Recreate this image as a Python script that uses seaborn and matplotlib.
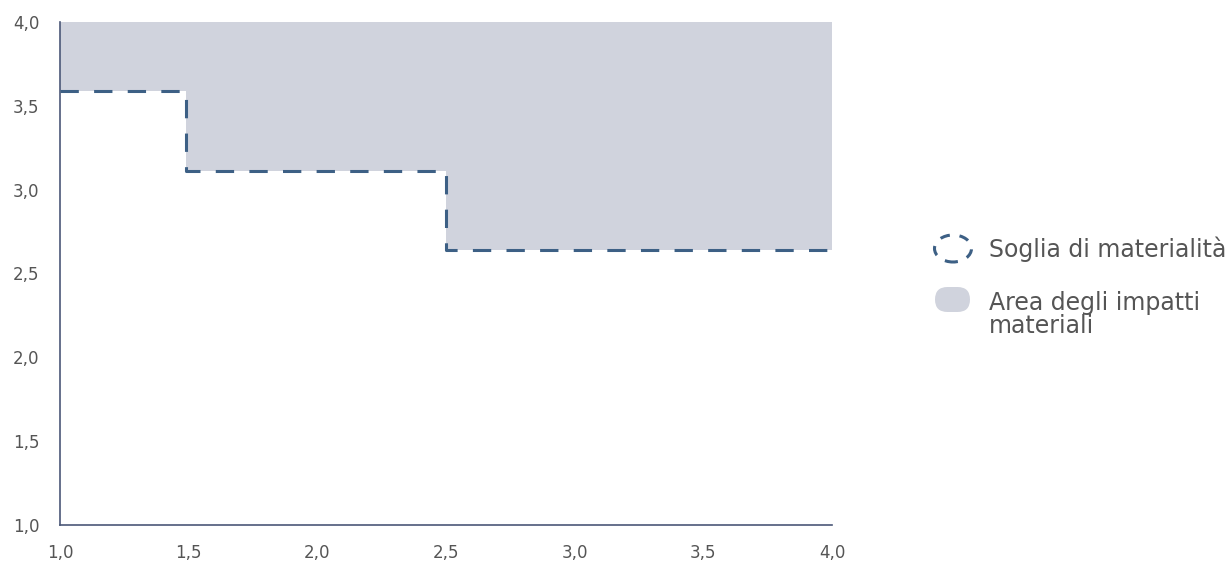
import numpy as np
import pandas as pd
import matplotlib.pyplot as plt
import seaborn as sns
from matplotlib.patches import Ellipse, FancyBboxPatch

# step threshold values
soglia_x = [1.0, 1.49, 2.5, 4.0]
soglia_y = [3.59, 3.11, 2.64, 2.64]
y_top = 4.0
ticks = [1.0, 1.5, 2.0, 2.5, 3.0, 3.5, 4.0]
tick_labels = ["1,0", "1,5", "2,0", "2,5", "3,0", "3,5", "4,0"]
legend_lines = ["Soglia di materialità", "Area degli impatti", "materiali"]

line_col = "#3d6085"
fill_col = "#d0d3dd"
axis_col = "#4b5878"
text_col = "#555555"

sns.set_style("white")
plt.rcParams["font.family"] = ["DejaVu Sans"]

df = pd.DataFrame({"x": soglia_x, "y": soglia_y})

fig = plt.figure(figsize=(12.3, 5.65), dpi=100)
ax = fig.add_axes([0.0488, 0.0708, 0.6276, 0.8903])

ax.fill_between(df["x"], df["y"], y_top, step="post", color=fill_col, linewidth=0, zorder=1)
sns.lineplot(data=df, x="x", y="y", ax=ax, drawstyle="steps-post", color=line_col,
             linewidth=2.2, linestyle=(0, (6, 5)), zorder=3)

ax.set_xlim(1.0, 4.0)
ax.set_ylim(1.0, 4.0)
ax.set_xticks(ticks)
ax.set_xticklabels(tick_labels)
ax.set_yticks(ticks)
ax.set_yticklabels(tick_labels)
ax.set_xlabel("")
ax.set_ylabel("")
ax.tick_params(axis="both", length=0, labelsize=12, labelcolor=text_col)
ax.tick_params(axis="x", pad=14)
ax.tick_params(axis="y", pad=15)
for s in ["top", "right"]:
    ax.spines[s].set_visible(False)
for s in ["left", "bottom"]:
    ax.spines[s].set_color(axis_col)
    ax.spines[s].set_linewidth(1.2)

# legend drawn by hand (positions in inches from bottom-left)
H = 5.65
tr = fig.dpi_scale_trans
fig.add_artist(Ellipse((9.53, H - 2.485), 0.37, 0.27, transform=tr, fill=False,
                       edgecolor=line_col, linewidth=2.2, linestyle=(1.6, (3.2, 3.2))))
pw, ph = 0.35, 0.25
fig.add_artist(FancyBboxPatch((9.525 - pw / 2 + ph / 2, H - 2.995), pw - ph, 0,
                              boxstyle="round,pad=%f" % (ph / 2), transform=tr,
                              facecolor=fill_col, edgecolor="none"))
for txt, yb in zip(legend_lines, [2.57, 3.10, 3.33]):
    fig.text(9.89, H - yb, txt, transform=tr, fontsize=17, color=text_col,
             va="baseline", ha="left")

fig.savefig("out.png", dpi=100)
